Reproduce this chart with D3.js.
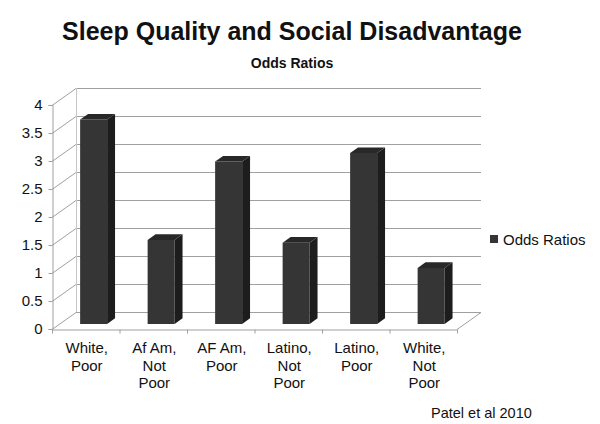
<!DOCTYPE html>
<html>
<head>
<meta charset="utf-8">
<script src="https://cdn.jsdelivr.net/npm/d3@7"></script>
<style>
  html, body { margin: 0; padding: 0; background: #fff; }
  svg { display: block; font-family: "Liberation Sans", Arial, sans-serif; }
</style>
</head>
<body>
<svg id="chart" width="600" height="424"></svg>
<script>
// Odds ratios of poor sleep quality by group
const categories = ["White, Poor", "Af Am, Not Poor", "AF Am, Poor", "Latino, Not Poor", "Latino, Poor", "White, Not Poor"];
const categoryLines = [["White,", "Poor"], ["Af Am,", "Not", "Poor"], ["AF Am,", "Poor"], ["Latino,", "Not", "Poor"], ["Latino,", "Poor"], ["White,", "Not", "Poor"]];
const oddsRatios = [3.65, 1.5, 2.9, 1.45, 3.05, 1.0];
const yTicks = [0, 0.5, 1, 1.5, 2, 2.5, 3, 3.5, 4];
const yTickLabels = ["0", "0.5", "1", "1.5", "2", "2.5", "3", "3.5", "4"];
const seriesName = "Odds Ratios";

const svg = d3.select("#chart");

const x = d3.scaleBand().domain(categories).range([52, 457]).padding(0);
const y = d3.scaleLinear().domain([0, 4]).range([329, 105]);

// oblique depth of the 3-D plot box
const DX = 24, DY = -17;
const proj = (px, v, f) => [px + DX * f, y(v) + DY * f];

const gridColor = "#a0a0a0";
const grid = svg.append("g").attr("stroke", gridColor).attr("stroke-width", 1).attr("fill", "none");

// back wall gridlines
yTicks.forEach(t => {
  const a = proj(x.range()[0], t, 1), b = proj(x.range()[1], t, 1);
  grid.append("line").attr("x1", a[0]).attr("y1", a[1] + 0.5).attr("x2", b[0]).attr("y2", b[1] + 0.5);
});
// side wall lines running back from each tick
yTicks.forEach(t => {
  const a = proj(x.range()[0], t, 0), b = proj(x.range()[0], t, 1);
  grid.append("line").attr("x1", a[0]).attr("y1", a[1] + 0.5).attr("x2", b[0]).attr("y2", b[1] + 0.5);
});
// back corner edge
{
  const a = proj(x.range()[0], 0, 1), b = proj(x.range()[0], 4, 1);
  grid.append("line").attr("x1", a[0] + 0.5).attr("y1", a[1]).attr("x2", b[0] + 0.5).attr("y2", b[1]).attr("stroke", "#c8c8c8");
}
// floor right edge
{
  const a = proj(x.range()[1], 0, 0), b = proj(x.range()[1], 0, 1);
  grid.append("line").attr("x1", a[0]).attr("y1", a[1] + 0.5).attr("x2", b[0]).attr("y2", b[1] + 0.5);
}

// value axis
const yAxis = d3.axisLeft(y).tickValues(yTicks).tickSize(4).tickFormat((d, i) => yTickLabels[i]);
const gy = svg.append("g").attr("transform", `translate(${x.range()[0] + 0.5},0)`).call(yAxis);
gy.select(".domain").attr("stroke", gridColor);
gy.selectAll(".tick line").attr("stroke", gridColor);
gy.selectAll(".tick text").attr("font-size", 15).attr("fill", "#111").attr("x", -10)
  .attr("font-family", "Liberation Sans, Arial, sans-serif");

// category axis along the front floor edge
const xAxis = d3.axisBottom(x).tickSize(0).tickFormat("");
const gx = svg.append("g").attr("transform", `translate(0,${y(0) + 0.5})`).call(xAxis);
gx.select(".domain").attr("stroke", gridColor);
const bounds = categories.map(c => x(c)).concat([x.range()[1]]);
gx.selectAll(".bound").data(bounds).enter().append("line")
  .attr("x1", d => d + 0.5).attr("x2", d => d + 0.5).attr("y1", 0).attr("y2", 4)
  .attr("stroke", gridColor);

// category labels
const labels = svg.append("g").attr("font-size", 15).attr("fill", "#111").attr("text-anchor", "middle");
categories.forEach((c, i) => {
  const t = labels.append("text").attr("x", x(c) + x.bandwidth() / 2 + 1).attr("y", 353);
  categoryLines[i].forEach((ln, k) => {
    t.append("tspan").attr("x", x(c) + x.bandwidth() / 2 + 1).attr("dy", k === 0 ? 0 : 17.5).text(ln);
  });
});

// 3-D columns
const F0 = 0.3, F1 = 0.63;
const barL = 0.31, barW = 0.40;
const bars = svg.append("g");
categories.forEach((c, i) => {
  const v = oddsRatios[i];
  const xl = x(c) + barL * x.bandwidth();
  const xr = xl + barW * x.bandwidth();
  const p = (px, val, f) => proj(px, val, f).join(",");
  const g = bars.append("g");
  // front face
  g.append("polygon").attr("fill", "#353535")
    .attr("points", [p(xl, 0, F0), p(xr, 0, F0), p(xr, v, F0), p(xl, v, F0)].join(" "));
  // right side face
  g.append("polygon").attr("fill", "#1d1d1d")
    .attr("points", [p(xr, 0, F0), p(xr, 0, F1), p(xr, v, F1), p(xr, v, F0)].join(" "));
  // top face
  g.append("polygon").attr("fill", "#282828")
    .attr("points", [p(xl, v, F0), p(xr, v, F0), p(xr, v, F1), p(xl, v, F1)].join(" "));
});

// titles
svg.append("text").attr("x", 292).attr("y", 40).attr("text-anchor", "middle")
  .attr("font-size", 25).attr("font-weight", "bold").attr("fill", "#111")
  .text("Sleep Quality and Social Disadvantage");
svg.append("text").attr("x", 292).attr("y", 68).attr("text-anchor", "middle")
  .attr("font-size", 14).attr("font-weight", "bold").attr("fill", "#111")
  .text("Odds Ratios");

// legend
const legend = svg.append("g").attr("transform", "translate(490,235)");
legend.append("rect").attr("width", 8).attr("height", 8).attr("fill", "#353535");
legend.append("text").attr("x", 13).attr("y", 9.5).attr("font-size", 15).attr("fill", "#111").text(seriesName);

// source note
svg.append("text").attr("x", 431).attr("y", 418).attr("font-size", 14.5).attr("fill", "#111")
  .text("Patel et al 2010");
</script>
</body>
</html>
